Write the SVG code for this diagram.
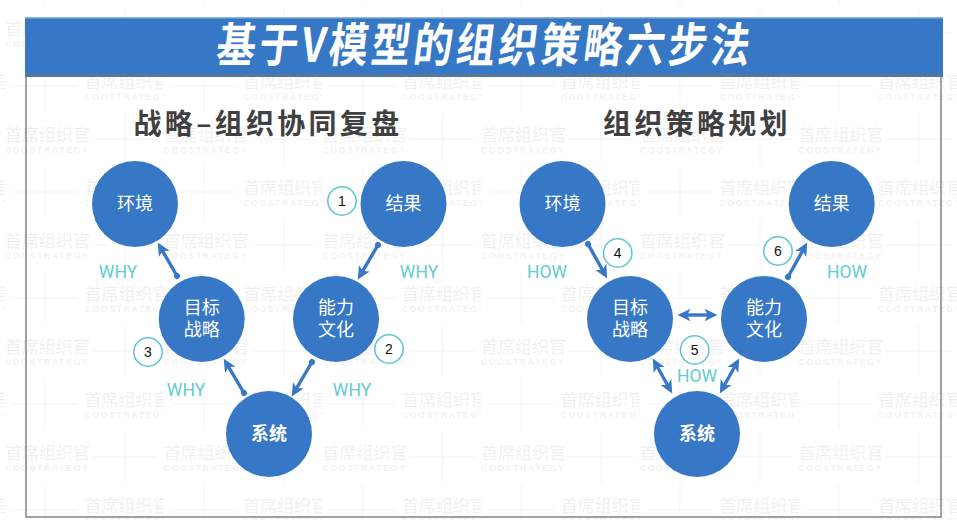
<svg xmlns="http://www.w3.org/2000/svg" width="957" height="520" viewBox="0 0 957 520">
<style>
.cjk{font-family:"Noto Sans CJK SC","Noto Sans",sans-serif}
.wm{font-size:17px;fill:#f0f0f0;font-weight:400}
.wme{font-family:"Liberation Sans",sans-serif;font-size:8.8px;font-weight:700;letter-spacing:1.55px;fill:#f1f1f1}
.wmc{stroke:#f3f3f3;stroke-width:1;fill:none}
.node{fill:#3778C6}
.nt{font-size:18px;fill:#fff;text-anchor:middle}
.sub{font-size:28px;font-weight:700;fill:#404040;letter-spacing:3.3px;text-anchor:middle}
.lab{font-family:Roboto,"Liberation Sans",sans-serif;font-weight:400;font-size:17.5px;fill:#62CCD2;text-anchor:middle}
.badge{fill:#fff;stroke:#5FC9CF;stroke-width:1.6}
.num{font-family:"Liberation Sans",sans-serif;font-size:14px;fill:#111;text-anchor:middle}
.conn{stroke:#3778C6;stroke-width:3.4;fill:none}
.one{marker-start:url(#dot);marker-end:url(#arrow)}
.two{marker-start:url(#arrow);marker-end:url(#arrow)}
</style>
<defs>
<pattern id="wmark" patternUnits="userSpaceOnUse" x="5" y="6" width="158.7" height="106">
<g>
<text class="cjk wm" x="0" y="29">首席组织官</text>
<text class="wme" x="0" y="41">COOSTRATEGY</text>
<path class="wmc" d="M87,27H153M120,1V53"/>
<text class="cjk wm" x="79.5" y="82">首席组织官</text>
<text class="wme" x="79.5" y="94">COOSTRATEGY</text>
<path class="wmc" d="M7,80H73M40,54V106"/>
</g>
</pattern>
<marker id="arrow" markerUnits="userSpaceOnUse" viewBox="0 0 14 14" markerWidth="14" markerHeight="14" refX="9" refY="7" orient="auto-start-reverse">
<path d="M13.5,7L0.5,0.8L3.8,7L0.5,13.2Z" fill="#3778C6"/>
</marker>
<marker id="dot" markerUnits="userSpaceOnUse" viewBox="0 0 8 8" markerWidth="8" markerHeight="8" refX="4" refY="4" orient="auto">
<circle cx="4" cy="4" r="3" fill="#3778C6"/>
</marker>
</defs>
<rect width="957" height="520" fill="#fff"/>
<rect id="watermark" width="957" height="520" fill="url(#wmark)"/>
<rect id="frame" x="26" y="76" width="915" height="441" fill="none" stroke="#8a8a8a" stroke-width="1.6"/>
<g id="title">
<rect x="25" y="17.5" width="918" height="59.5" fill="#3778C6"/>
<rect x="25" y="17.5" width="918" height="1" fill="#7fb0e0"/>
<rect x="25" y="74" width="918" height="2.4" fill="#5f7590"/>
<text class="cjk" transform="translate(215,62) skewX(-7) scale(.85,1.02)" font-size="46" font-weight="700" fill="#fff" letter-spacing="3.9">基于V模型的组织策略六步法</text>
</g>
<text id="sub-left" class="cjk sub" x="268" y="134">战略–组织协同复盘</text>
<text id="sub-right" class="cjk sub" x="697" y="134">组织策略规划</text>
<g id="connectors">
<line class="conn one" x1="177" y1="276" x2="160" y2="246.5"/>
<line class="conn one" x1="378" y1="245" x2="360" y2="275.6"/>
<line class="conn one" x1="312" y1="362" x2="294" y2="392.6"/>
<line class="conn one" x1="244" y1="393" x2="226" y2="362.6"/>
<line class="conn one" x1="588" y1="244" x2="605" y2="274.5"/>
<line class="conn one" x1="788" y1="277" x2="805" y2="246.5"/>
<line class="conn two" x1="682" y1="315" x2="713" y2="315"/>
<line class="conn two" x1="655" y1="362.5" x2="670" y2="389.5"/>
<line class="conn two" x1="737" y1="362.5" x2="722" y2="389.5"/>
</g>
<g id="l-env"><circle class="node" cx="135" cy="204" r="43"/><text class="cjk nt" x="135" y="210">环境</text></g>
<g id="l-res"><circle class="node" cx="403.5" cy="204" r="43"/><text class="cjk nt" x="403.5" y="210">结果</text></g>
<g id="l-goal"><circle class="node" cx="201.7" cy="319" r="43"/><text class="cjk nt"><tspan x="201.7" y="314">目标</tspan><tspan x="201.7" y="336">战略</tspan></text></g>
<g id="l-cap"><circle class="node" cx="336" cy="319" r="43"/><text class="cjk nt"><tspan x="336" y="314">能力</tspan><tspan x="336" y="336">文化</tspan></text></g>
<g id="l-sys"><circle class="node" cx="269" cy="434" r="43"/><text class="cjk nt" font-weight="700" x="269" y="440">系统</text></g>
<g id="r-env"><circle class="node" cx="562.5" cy="204" r="43"/><text class="cjk nt" x="562.5" y="210">环境</text></g>
<g id="r-res"><circle class="node" cx="831.7" cy="204" r="43"/><text class="cjk nt" x="831.7" y="210">结果</text></g>
<g id="r-goal"><circle class="node" cx="630" cy="319" r="43"/><text class="cjk nt"><tspan x="630" y="314">目标</tspan><tspan x="630" y="336">战略</tspan></text></g>
<g id="r-cap"><circle class="node" cx="764" cy="319" r="43"/><text class="cjk nt"><tspan x="764" y="314">能力</tspan><tspan x="764" y="336">文化</tspan></text></g>
<g id="r-sys"><circle class="node" cx="697" cy="434" r="43"/><text class="cjk nt" font-weight="700" x="697" y="440">系统</text></g>
<g id="badge-1"><circle class="badge" cx="342" cy="201" r="14.2"/><text class="num" x="342" y="206">1</text></g>
<g id="badge-2"><circle class="badge" cx="389" cy="349" r="14.2"/><text class="num" x="389" y="354">2</text></g>
<g id="badge-3"><circle class="badge" cx="148" cy="352" r="14.2"/><text class="num" x="148" y="357">3</text></g>
<g id="badge-4"><circle class="badge" cx="617.7" cy="253" r="14.2"/><text class="num" x="617.7" y="258">4</text></g>
<g id="badge-5"><circle class="badge" cx="694.7" cy="350" r="14.2"/><text class="num" x="694.7" y="355">5</text></g>
<g id="badge-6"><circle class="badge" cx="778" cy="251" r="14.2"/><text class="num" x="778" y="256">6</text></g>
<g id="labels">
<text class="lab" x="118" y="278">WHY</text>
<text class="lab" x="419" y="278">WHY</text>
<text class="lab" x="186" y="396">WHY</text>
<text class="lab" x="352" y="396">WHY</text>
<text class="lab" x="547" y="278">HOW</text>
<text class="lab" x="847" y="278">HOW</text>
<text class="lab" x="697" y="382">HOW</text>
</g>
</svg>
